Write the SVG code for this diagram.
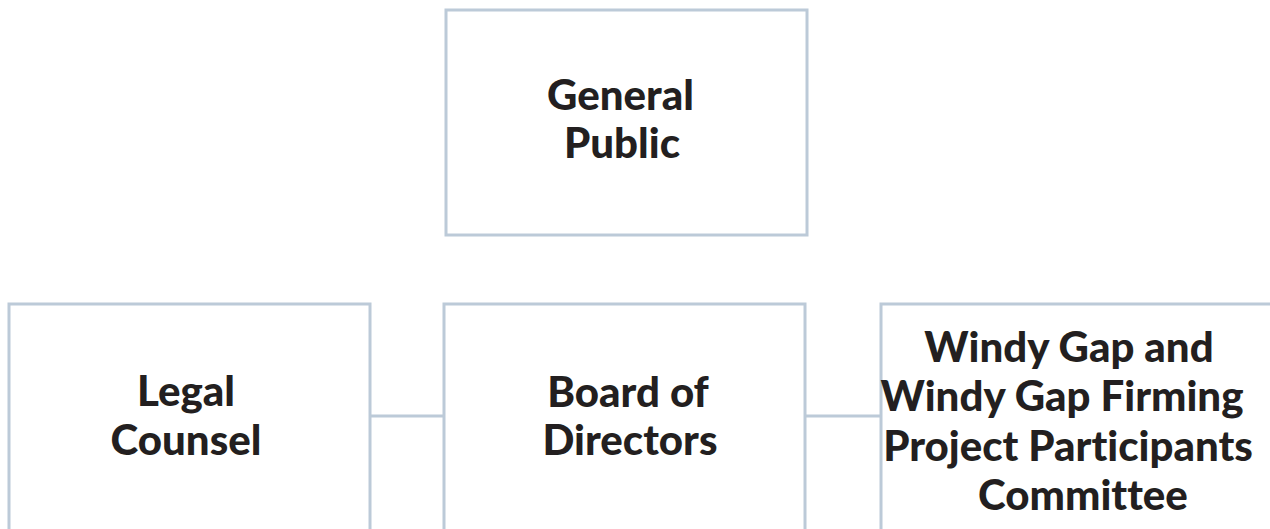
<svg xmlns="http://www.w3.org/2000/svg" width="1270" height="529" viewBox="0 0 1270 529">
  <style>
    .box { fill: #ffffff; stroke: #bccad8; stroke-width: 3; }
    .link { stroke: #bccad8; stroke-width: 3; fill: none; }
    .label { font-family: Lato, "Open Sans", "Liberation Sans", sans-serif; font-weight: 900; font-size: 42px; fill: #231f20; text-anchor: middle; font-variant-ligatures: none; }
  </style>
  <rect width="1270" height="529" fill="#ffffff"/>

  <g id="connectors">
    <line class="link" x1="370" y1="416" x2="444" y2="416"/>
    <line class="link" x1="805" y1="416" x2="881" y2="416"/>
  </g>

  <g id="general-public">
    <rect class="box" x="446" y="10" width="361" height="225"/>
    <text class="label" x="620.5" y="110">General</text>
    <text class="label" x="622" y="158">Public</text>
  </g>

  <g id="legal-counsel">
    <rect class="box" x="9" y="304" width="361" height="240"/>
    <text class="label" x="186" y="406">Legal</text>
    <text class="label" x="186" y="455">Counsel</text>
  </g>

  <g id="board-of-directors">
    <rect class="box" x="444" y="304" width="361" height="240"/>
    <text class="label" x="628" y="407">Board of</text>
    <text class="label" x="630" y="455">Directors</text>
  </g>

  <g id="project-participants-committee">
    <rect class="box" x="881" y="304" width="400" height="240"/>
    <text class="label" x="1069" y="362">Windy Gap and</text>
    <text class="label" x="1062" y="411">Windy Gap Firming</text>
    <text class="label" x="1068" y="461">Project Participants</text>
    <text class="label" x="1083" y="510">Committee</text>
  </g>
</svg>
